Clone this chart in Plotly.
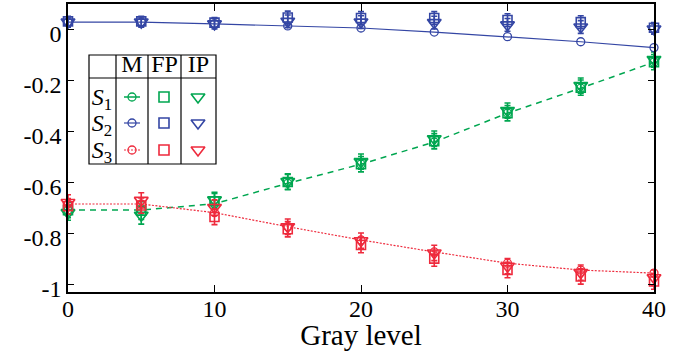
import plotly.graph_objects as go

# ---------------- data ----------------
gray = [0, 5, 10, 15, 20, 25, 30, 35, 40]

s1_M  = [-0.710, -0.710, -0.685, -0.605, -0.530, -0.443, -0.330, -0.232, -0.130]
s1_FP = [-0.710, -0.712, -0.675, -0.600, -0.530, -0.440, -0.330, -0.230, -0.130]
s1_IP = [-0.720, -0.730, -0.670, -0.598, -0.520, -0.430, -0.320, -0.222, -0.120]

s2_M  = [0.027, 0.027, 0.020, 0.012, 0.004, -0.012, -0.030, -0.050, -0.073]
s2_FP = [0.030, 0.030, 0.025, 0.045, 0.043, 0.043, 0.035, 0.027, 0.005]
s2_IP = [0.027, 0.027, 0.020, 0.030, 0.027, 0.025, 0.016, 0.008, 0.000]

s3_M  = [-0.686, -0.686, -0.720, -0.775, -0.827, -0.874, -0.918, -0.945, -0.957]
s3_FP = [-0.695, -0.692, -0.737, -0.785, -0.847, -0.900, -0.945, -0.970, -0.990]
s3_IP = [-0.680, -0.672, -0.700, -0.775, -0.830, -0.878, -0.930, -0.955, -0.975]

s1_err = [0.030, 0.035, 0.030, 0.030, 0.030, 0.030, 0.030, 0.030, 0.030]
s2_err = [0.020, 0.020, 0.020, 0.025, 0.025, 0.025, 0.025, 0.025, 0.020]
s3_err = [0.030, 0.030, 0.030, 0.030, 0.030, 0.030, 0.030, 0.030, 0.030]

x_ticks = [0, 10, 20, 30, 40]
y_ticks = [0, -0.2, -0.4, -0.6, -0.8, -1]
y_tick_text = ["0", "-0.2", "-0.4", "-0.6", "-0.8", "-1"]

series_labels = ["<i>S</i><sub>1</sub>", "<i>S</i><sub>2</sub>", "<i>S</i><sub>3</sub>"]
method_names = ["M", "FP", "IP"]
x_title = "Gray level"

# ---------------- style ----------------
GREEN = "#00a650"
BLUE = "#3446a4"
RED = "#ee2a3c"
FONT = "Liberation Serif"
W, H = 688, 355
ML, MR, MT = 68, 34, 4
PLOT_BOTTOM = 292  # pixel row of the x axis

series = [
    (s1_M, s1_FP, s1_IP, s1_err, GREEN, "6px,5px", 1.5, "solid"),
    (s2_M, s2_FP, s2_IP, s2_err, BLUE, "solid", 1.2, "solid"),
    (s3_M, s3_FP, s3_IP, s3_err, RED, "2px,1.5px", 1.2, "2px,1.5px"),
]

fig = go.Figure()

for M, FP, IP, err, col, dash, lw, _ in series:
    fig.add_trace(go.Scatter(
        x=gray, y=M, mode="lines+markers", cliponaxis=False,
        line=dict(color=col, width=lw, dash=dash),
        marker=dict(symbol="circle-open", size=8, color=col, line=dict(width=1.3, color=col)),
        showlegend=False))
    fig.add_trace(go.Scatter(
        x=gray, y=FP, mode="markers", cliponaxis=False,
        marker=dict(symbol="square-open", size=9, color=col, line=dict(width=1.6, color=col)),
        error_y=dict(type="data", array=err, color=col, thickness=1.6, width=3),
        showlegend=False))
    fig.add_trace(go.Scatter(
        x=gray, y=IP, mode="markers", cliponaxis=False,
        marker=dict(symbol="triangle-down-open", size=12, color=col, line=dict(width=1.6, color=col)),
        error_y=dict(type="data", array=err, color=col, thickness=1.6, width=3),
        showlegend=False))

# ---------------- legend table, in pixel units on hidden full-height axes ----------------
L, R, T, B = 89, 216, 55, 164
col_div = [116, 148, 181]
row_div = 78
hdr_y = 66
row_y = [97, 123, 150]
lab_x = 102
sym_x = [132, 164, 198]
hdr_x = [(col_div[0] + col_div[1]) / 2, (col_div[1] + col_div[2]) / 2, (col_div[2] + R) / 2]

shapes = [dict(type="rect", xref="x2", yref="y2", x0=L, x1=R, y0=B, y1=T,
               line=dict(color="black", width=1.2), fillcolor="rgba(0,0,0,0)", layer="above")]
for cx in col_div:
    shapes.append(dict(type="line", xref="x2", yref="y2", x0=cx, x1=cx, y0=B, y1=T,
                       line=dict(color="black", width=1.2)))
shapes.append(dict(type="line", xref="x2", yref="y2", x0=L, x1=R, y0=row_div, y1=row_div,
                   line=dict(color="black", width=1.2)))

fig.add_trace(go.Scatter(
    x=hdr_x, y=[hdr_y] * 3, mode="text", text=method_names, textposition="middle center",
    textfont=dict(family=FONT, size=24, color="black"),
    xaxis="x2", yaxis="y2", showlegend=False, hoverinfo="skip"))
fig.add_trace(go.Scatter(
    x=[lab_x] * 3, y=[v + 2 for v in row_y], mode="text", text=series_labels,
    textposition="middle center", textfont=dict(family=FONT, size=24, color="black"),
    xaxis="x2", yaxis="y2", showlegend=False, hoverinfo="skip"))

for j, (M, FP, IP, err, col, dash, lw, ldash) in enumerate(series):
    fig.add_trace(go.Scatter(
        x=[sym_x[0] - 8, sym_x[0] + 8], y=[row_y[j], row_y[j]], mode="lines",
        line=dict(color=col, width=lw, dash=ldash),
        xaxis="x2", yaxis="y2", showlegend=False, hoverinfo="skip"))
    fig.add_trace(go.Scatter(
        x=[sym_x[0]], y=[row_y[j]], mode="markers",
        marker=dict(symbol="circle-open", size=8, color=col, line=dict(width=1.3, color=col)),
        xaxis="x2", yaxis="y2", showlegend=False, hoverinfo="skip"))
    fig.add_trace(go.Scatter(
        x=[sym_x[1]], y=[row_y[j]], mode="markers",
        marker=dict(symbol="square-open", size=10, color=col, line=dict(width=1.6, color=col)),
        xaxis="x2", yaxis="y2", showlegend=False, hoverinfo="skip"))
    fig.add_trace(go.Scatter(
        x=[sym_x[2]], y=[row_y[j]], mode="markers",
        marker=dict(symbol="triangle-down-open", size=12, color=col, line=dict(width=1.6, color=col)),
        xaxis="x2", yaxis="y2", showlegend=False, hoverinfo="skip"))

# x-axis title
fig.add_trace(go.Scatter(
    x=[(ML + W - MR) / 2], y=[338], mode="text", text=[x_title], textposition="middle center",
    textfont=dict(family=FONT, size=29, color="black"),
    xaxis="x2", yaxis="y2", showlegend=False, hoverinfo="skip"))

axis_common = dict(showgrid=False, zeroline=False, showline=True, linecolor="black",
                   linewidth=1.5, ticks="inside", tickcolor="black", tickwidth=1.2,
                   mirror="ticks", automargin=False,
                   tickfont=dict(family=FONT, size=24, color="black"))

fig.update_layout(
    width=W, height=H,
    margin=dict(l=ML, r=MR, t=MT, b=0),
    paper_bgcolor="white", plot_bgcolor="rgba(0,0,0,0)",
    font=dict(family=FONT, color="black"),
    xaxis=dict(range=[0, 40], tickvals=x_ticks, ticklen=7, ticklabelstandoff=-6, **axis_common),
    yaxis=dict(range=[-1.031, 0.098], tickvals=y_ticks, ticktext=y_tick_text, ticklen=6,
               domain=[(H - PLOT_BOTTOM) / (H - MT), 1], ticklabelshift=5, **axis_common),
    xaxis2=dict(domain=[0, 1], anchor="y2", range=[ML, W - MR], visible=False, fixedrange=True),
    yaxis2=dict(domain=[0, 1], anchor="x2", range=[H, MT], visible=False, fixedrange=True),
    shapes=shapes,
)

fig.write_html("out.html", config={"displayModeBar": False},
               post_script="document.body.style.margin='0px';")
